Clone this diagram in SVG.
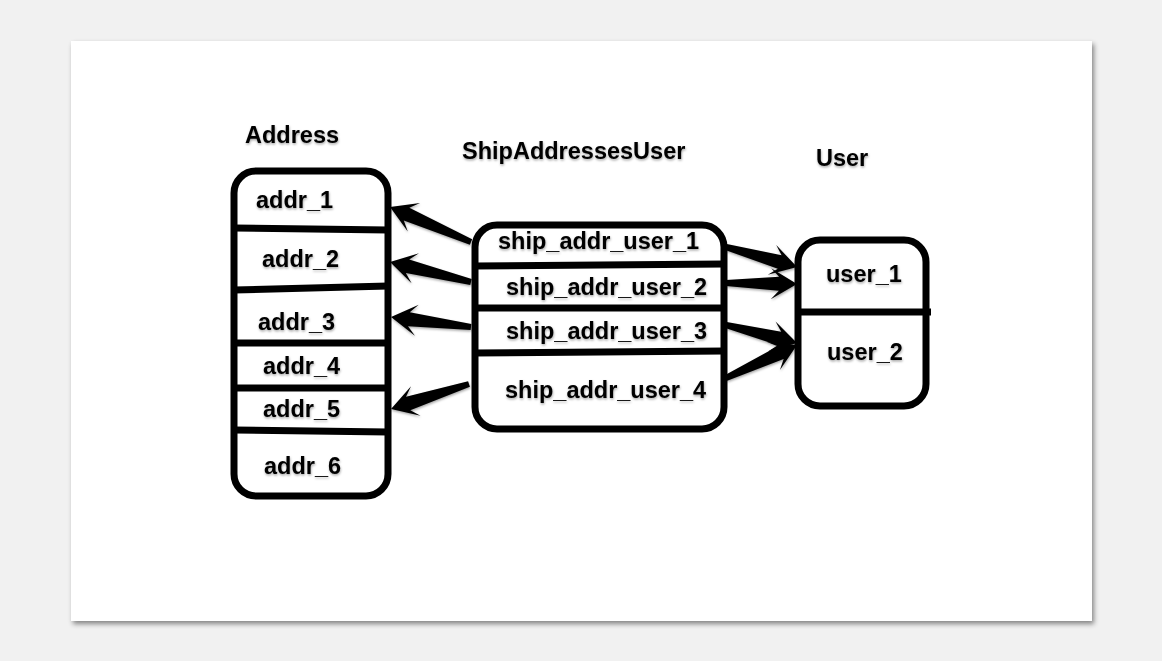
<svg xmlns="http://www.w3.org/2000/svg" width="1162" height="661" viewBox="0 0 1162 661">
<defs>
<filter id="slideShadow" x="-5%" y="-5%" width="110%" height="112%">
<feDropShadow dx="2" dy="3" stdDeviation="2.5" flood-color="#000" flood-opacity="0.45"/>
</filter>
<filter id="soft" x="-10%" y="-20%" width="120%" height="150%">
<feDropShadow dx="0.5" dy="1.5" stdDeviation="1" flood-color="#000" flood-opacity="0.35"/>
</filter>
</defs>
<style>
.box{fill:none;stroke:#000;stroke-width:7;}
.div{stroke:#000;stroke-width:7;fill:none;}
.lbl{font-family:"Liberation Sans",Arial,sans-serif;font-weight:bold;font-size:23.5px;fill:#000;}
.ttl{font-family:"Liberation Sans",Arial,sans-serif;font-weight:bold;font-size:23.5px;fill:#000;}
.arr{fill:#000;}
</style>
<rect x="0" y="0" width="1162" height="661" fill="#f1f1f1"/>
<rect x="71" y="41" width="1021" height="580" fill="#fff" filter="url(#slideShadow)"/>

<g id="titles" filter="url(#soft)">
<text class="ttl" x="245" y="143">Address</text>
<text class="ttl" x="462" y="159">ShipAddressesUser</text>
<text class="ttl" x="816" y="166">User</text>
</g>

<g id="address">
<rect class="box" x="234" y="171" width="154" height="325" rx="22"/>
<line class="div" x1="234" y1="228" x2="388" y2="230"/>
<line class="div" x1="234" y1="290" x2="388" y2="286"/>
<line class="div" x1="234" y1="343" x2="388" y2="343"/>
<line class="div" x1="234" y1="388" x2="388" y2="388"/>
<line class="div" x1="234" y1="430" x2="388" y2="432"/>
<g filter="url(#soft)">
<text class="lbl" x="256" y="208">addr_1</text>
<text class="lbl" x="262" y="267">addr_2</text>
<text class="lbl" x="258" y="330">addr_3</text>
<text class="lbl" x="263" y="374">addr_4</text>
<text class="lbl" x="263" y="417">addr_5</text>
<text class="lbl" x="264" y="474">addr_6</text>
</g>
</g>

<g id="shipaddressesuser">
<rect class="box" x="475" y="225" width="249" height="204" rx="22"/>
<line class="div" x1="475" y1="266" x2="724" y2="264"/>
<line class="div" x1="475" y1="308" x2="724" y2="308"/>
<line class="div" x1="475" y1="353" x2="724" y2="351"/>
<g filter="url(#soft)">
<text class="lbl" x="498" y="249">ship_addr_user_1</text>
<text class="lbl" x="506" y="295">ship_addr_user_2</text>
<text class="lbl" x="506" y="339">ship_addr_user_3</text>
<text class="lbl" x="505" y="398">ship_addr_user_4</text>
</g>
</g>

<g id="user">
<rect class="box" x="798" y="240" width="128" height="166" rx="22"/>
<line class="div" x1="798" y1="312" x2="931" y2="312"/>
<g filter="url(#soft)">
<text class="lbl" x="826" y="282">user_1</text>
<text class="lbl" x="827" y="360">user_2</text>
</g>
</g>

<g id="connectors" class="arr" filter="url(#soft)">
<g transform="translate(471,242) rotate(203.4)"><path d="M0,-3 L70.2,-7 L62.2,-15.5 L88.2,0 L62.2,15.5 L70.2,7 L0,3Z"/></g>
<g transform="translate(471,282) rotate(193.9)"><path d="M0,-3 L65.4,-7 L57.4,-15.5 L83.4,0 L57.4,15.5 L65.4,7 L0,3Z"/></g>
<g transform="translate(471,327) rotate(187.1)"><path d="M0,-3 L62.6,-7 L54.6,-15.5 L80.6,0 L54.6,15.5 L62.6,7 L0,3Z"/></g>
<g transform="translate(469,384) rotate(162.2)"><path d="M0,-3 L63.9,-7 L55.9,-15.5 L81.9,0 L55.9,15.5 L63.9,7 L0,3Z"/></g>
<g transform="translate(726,247) rotate(15.7)"><path d="M0,-3 L55.8,-7 L47.8,-15.5 L73.8,0 L47.8,15.5 L55.8,7 L0,3Z"/></g>
<g transform="translate(726,283) rotate(0.8)"><path d="M0,-3 L53,-7 L45,-15.5 L71,0 L45,15.5 L53,7 L0,3Z"/></g>
<g transform="translate(726,325) rotate(14.2)"><path d="M0,-3 L55.2,-7 L47.2,-15.5 L73.2,0 L47.2,15.5 L55.2,7 L0,3Z"/></g>
<g transform="translate(726,378) rotate(-24.9)"><path d="M0,-3 L60.3,-7 L52.3,-15.5 L78.3,0 L52.3,15.5 L60.3,7 L0,3Z"/></g>
</g>
</svg>
